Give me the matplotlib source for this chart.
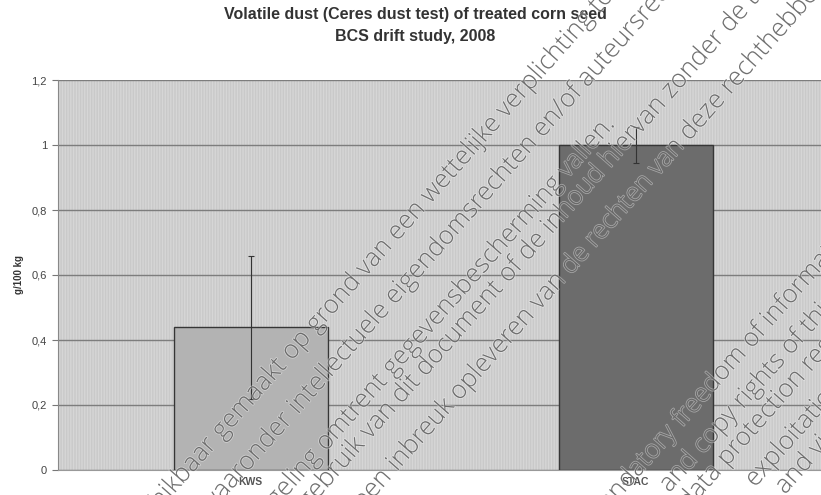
import matplotlib.pyplot as plt
import matplotlib.patheffects as pe
from matplotlib.patches import Rectangle

# dust values per seed lot (g/100 kg) and their error spans
categories = ['KWS', 'STAC']
dust = [0.44, 1.0]
dust_err = [0.22, 0.055]
yticks = [0, 0.2, 0.4, 0.6, 0.8, 1.0, 1.2]
ytick_labels = ['0', '0,2', '0,4', '0,6', '0,8', '1', '1,2']

# disclaimer stamped diagonally over the page: (hidden prefix, visible text, x px, y px)
stamp_lines = [
    ('beschikbaar ', 'gemaakt op grond van een wettelijke verplichting tot openbaarmaking', 222, 440),
    ('waaronder ', 'intellectuele eigendomsrechten en/of auteursrechten', 298, 415),
    ('regeling ', 'omtrent gegevensbescherming vallen.', 326, 452),
    ('gebruik ', 'van dit document of de inhoud hiervan zonder de toestemming', 370, 440),
    ('kan een ', 'inbreuk opleveren van de rechten van deze rechthebbenden.', 397, 472),
    ('mandatory ', 'freedom of information', 682, 428),
    ('and ', 'copy rights of third parties', 703, 455),
    ('data ', 'protection regime', 727, 467),
    ('', 'exploitation', 755, 488),
    ('', 'and violation', 785, 495),
]

W, H = 821, 495
fig = plt.figure(figsize=(W / 100, H / 100), dpi=100)
fig.patch.set_facecolor('white')

left, right, top, bottom = 58, 828, 80, 470
ax = fig.add_axes([left / W, 1 - bottom / H, (right - left) / W, (bottom - top) / H])
ax.set_facecolor('#c9c9c9')
ax.add_patch(Rectangle((0, 0), 1, 1, transform=ax.transAxes, facecolor='none',
                       edgecolor='#d6d6d6', hatch='||||||', lw=0, zorder=0))

x = range(len(categories))
ax.bar(x, dust, width=0.4, color=['#b3b3b3', '#6c6c6c'], edgecolor='#363636',
       linewidth=1, zorder=3)
ax.errorbar(x, dust, yerr=dust_err, fmt='none', ecolor='#333333', elinewidth=0.8,
            capsize=2, capthick=0.8, zorder=4)

ax.set_xlim(-0.5, 1.5)
ax.set_ylim(0, 1.2)
ax.set_yticks(yticks)
ax.set_yticklabels(ytick_labels, fontsize=8, color='#444444', family='Liberation Sans')
ax.set_xticks(list(x))
ax.set_xticklabels(categories, fontsize=7.5, color='#555555', fontweight='bold',
                   family='Liberation Sans')
ax.tick_params(axis='x', length=0, pad=5)
ax.tick_params(axis='y', length=4, width=0.8, color='#777777', pad=4)
ax.yaxis.grid(True, color='#7d7d7d', lw=1)
ax.set_axisbelow(True)
for s in ['top', 'right']:
    ax.spines[s].set_visible(False)
ax.spines['left'].set_color('#888888')
ax.spines['bottom'].set_color('#999999')

ax.set_ylabel('g/100 kg', fontsize=7, fontweight='bold', color='#333333',
              family='Liberation Sans', labelpad=5)

fig.text(415 / W, 1 - 15 / H, 'Volatile dust (Ceres dust test) of treated corn seed',
         ha='center', va='center', fontsize=11.5, fontweight='bold', color='#333333',
         family='Liberation Sans')
fig.text(415 / W, 1 - 37 / H, 'BCS drift study, 2008', ha='center', va='center',
         fontsize=11.5, fontweight='bold', color='#333333', family='Liberation Sans')

angle = 48.5
halo = [pe.withStroke(linewidth=1.2, foreground='white', alpha=0.4)]
for prefix, text, px, py in stamp_lines:
    for s, ha in [(prefix, 'right'), (text, 'left')]:
        if not s:
            continue
        fig.text(px / W, 1 - py / H, s, rotation=angle, rotation_mode='anchor',
                 ha=ha, va='baseline', fontsize=18.5, family='Open Sans',
                 fontweight='light', color='#5e5e5e', alpha=0.85,
                 path_effects=halo, zorder=10)

fig.savefig('out.png', dpi=100)
